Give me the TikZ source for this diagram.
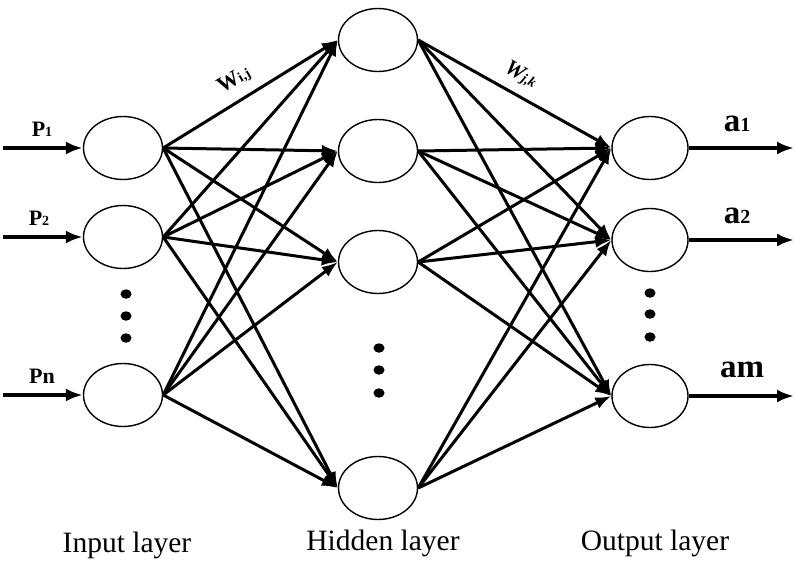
\documentclass[tikz,border=0pt]{standalone}
\usepackage{fontspec}
\setmainfont{Liberation Serif}
\usetikzlibrary{shapes.geometric, arrows.meta, positioning}

\newcommand{\smallsub}[1]{{\fontsize{14}{14}\selectfont #1}}
\newcommand{\bigsub}[1]{{\fontsize{20}{20}\selectfont #1}}

\tikzset{
  neuron/.style={draw, ellipse, line width=1.4pt, minimum width=79pt, minimum height=63pt, inner sep=0pt},
  conn/.style={line width=3pt, -{Latex[length=16pt, width=12pt]}},
  io/.style={line width=3.4pt, -{Latex[length=17pt, width=13pt]}},
  dot/.style={fill, ellipse, minimum width=11pt, minimum height=9.5pt, inner sep=0pt},
  lbl/.style={font=\fontsize{22}{24}\selectfont\bfseries},
  outlbl/.style={font=\fontsize{33}{35}\selectfont\bfseries},
  layer/.style={font=\fontsize{29.5}{31}\selectfont}
}

\begin{document}
\begin{tikzpicture}[x=1pt, y=-1pt]
  \useasboundingbox (0,0) rectangle (796,563);
  % input layer
  \node[neuron] (in1) at (123,148) {};
  \node[neuron] (in2) at (123,237) {};
  \node[neuron] (inn) at (123,395) {};
  \node[dot] (id1) at (126,294) {};
  \node[dot] (id2) at (126,316) {};
  \node[dot] (id3) at (126,338) {};
  % hidden layer
  \node[neuron] (h1) at (378,40) {};
  \node[neuron] (h2) at (378,151) {};
  \node[neuron] (h3) at (378,262) {};
  \node[neuron] (h4) at (378,488) {};
  \node[dot] (hd1) at (379,348) {};
  \node[dot] (hd2) at (379,370) {};
  \node[dot] (hd3) at (379,393) {};
  % output layer
  \node[neuron, minimum width=76pt] (o1) at (650,148) {};
  \node[neuron, minimum width=76pt] (o2) at (650,240) {};
  \node[neuron, minimum width=76pt] (om) at (650,396) {};
  \node[dot] (od1) at (650,293) {};
  \node[dot] (od2) at (650,314) {};
  \node[dot] (od3) at (650,337) {};
  % inputs and outputs
  \coordinate (p1) at (3,148);
  \coordinate (p2) at (3,237);
  \coordinate (pn) at (3,395);
  \coordinate (a1) at (794,148);
  \coordinate (a2) at (794,240);
  \coordinate (am) at (794,396);
  \draw[io] (p1) -- (in1);
  \draw[io] (p2) -- (in2);
  \draw[io] (pn) -- (inn);
  \draw[io] (o1) -- (a1);
  \draw[io] (o2) -- (a2);
  \draw[io] (om) -- (am);
  \node[lbl] (lp1) at (42,129) {P\smallsub{1}};
  \node[lbl] (lp2) at (39,218) {P\smallsub{2}};
  \node[lbl] (lpn) at (42,376) {Pn};
  \node[outlbl] (la1) at (737,124) {a\bigsub{1}};
  \node[outlbl] (la2) at (737,216) {a\bigsub{2}};
  \node[outlbl] (lam) at (742,370) {am};
  % weights
  \foreach \i in {in1,in2,inn}
    \foreach \j in {h1,h2,h3,h4}
      \draw[conn] (\i.east) -- (\j.west);
  \foreach \j in {h1,h2,h3,h4}
    \foreach \k in {o1,o2,om}
      \draw[conn] (\j.east) -- (\k.west);
  \node[lbl, rotate=30] (wij) at (234,80) {W\smallsub{i,j}};
  \node[lbl, rotate=-30] (wjk) at (521,75) {\textit{W\smallsub{j,k}}};
  % layer names
  \node[layer] (lin) at (127,545) {Input layer};
  \node[layer] (lhid) at (383,543) {Hidden layer};
  \node[layer] (lout) at (655,543) {Output layer};
\end{tikzpicture}
\end{document}
